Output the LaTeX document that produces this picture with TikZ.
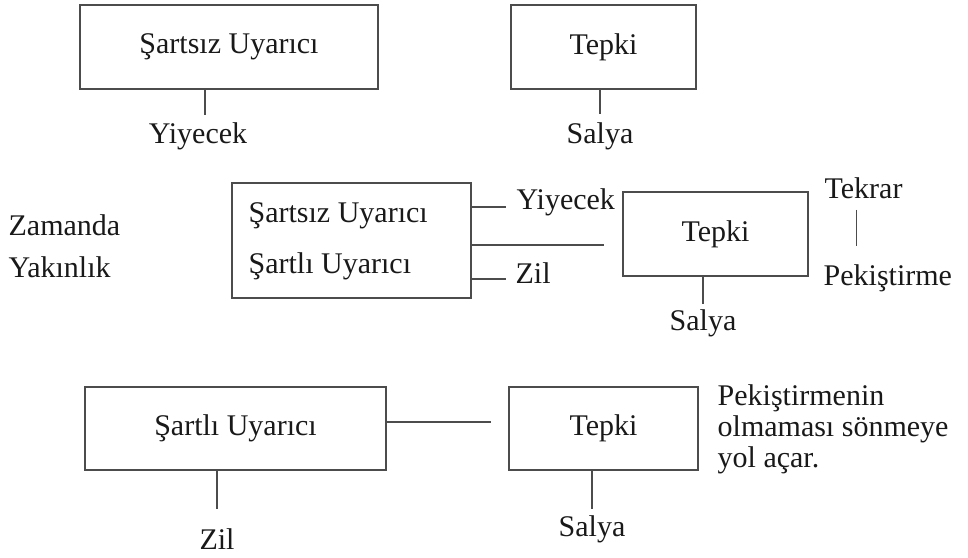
\documentclass[tikz,border=0pt]{standalone}
\usepackage{fontspec}
\setmainfont{Liberation Serif}
\usetikzlibrary{positioning}

\begin{document}
\begin{tikzpicture}
  [x=1pt, y=-1pt, color=black!70, line width=1.3pt, nodes={text=black!90, inner sep=0pt, font=\fontsize{30}{31}\selectfont}]
  \tikzset{box/.style={draw, minimum height=84pt}}
  \tikzset{lbl/.style={anchor=base}}
  \tikzset{side/.style={anchor=base west}}
  \useasboundingbox (0,0) rectangle (968,557);

  % first row
  \node [box, minimum width=298pt] (SU) at (229,47) {Şartsız Uyarıcı};
  \node [box, minimum width=185pt] (TP) at (603.5,47) {Tepki};
  \node [lbl] (YI) at (198,143) {Yiyecek};
  \node [lbl] (SA) at (600,143) {Salya};

  % second row
  \node [side] (ZA) at (8,235) {Zamanda};
  \node [side] (YA) at (8,277) {Yakınlık};
  \node [box, minimum width=239pt, minimum height=115pt] (BX) at (351.5,240.5) {};
  \node [side] (BS) at (248,222) {Şartsız Uyarıcı};
  \node [side] (BL) at (248,273) {Şartlı Uyarıcı};
  \node [side] (YI2) at (516,209) {Yiyecek};
  \node [side] (ZI2) at (515,283) {Zil};
  \node [box, minimum width=185pt] (TP2) at (715.5,234) {Tepki};
  \node [lbl] (SA2) at (703,330) {Salya};
  \node [side] (TK) at (824,198) {Tekrar};
  \node [side] (PK) at (823,285) {Pekiştirme};

  % third row
  \node [box, minimum width=301pt, minimum height=83pt] (SL) at (235.5,428.5) {Şartlı Uyarıcı};
  \node [box, minimum width=189pt, minimum height=83pt] (TP3) at (603.5,428.5) {Tepki};
  \node [lbl] (ZI3) at (217,549) {Zil};
  \node [lbl] (SA3) at (592,536) {Salya};
  \node [anchor=north west, align=left] (NT) at (717,384.5) {Pekiştirmenin\\olmaması sönmeye\\yol açar.};

  % first row
  \coordinate (yi) at ([xshift=7pt]YI.north);
  \draw [shorten >=7pt] (yi |- SU.south) -- (yi);
  \draw [shorten >=7.5pt] (SA.north |- TP.south) -- (SA.north);

  % second row
  \coordinate (yi2) at ([yshift=2pt]YI2.base west);
  \draw [shorten >=10pt] (BX.east |- yi2) -- (yi2);
  \coordinate (zi2) at ([yshift=4pt]ZI2.base west);
  \draw [shorten >=9pt] (BX.east |- zi2) -- (zi2);
  \coordinate (mid) at (604,245);
  \draw (BX.east |- mid) -- (mid);
  \draw [shorten >=5pt] (SA2.north |- TP2.south) -- (SA2.north);
  \coordinate (tk) at ([xshift=-7pt]TK.south);
  \draw [shorten <=11pt, shorten >=17.5pt] (tk) -- (tk |- PK.north);

  % third row
  \draw [shorten >=17pt] ([yshift=6.5pt]SL.east) -- ([yshift=6.5pt]TP3.west);
  \draw [shorten >=18.5pt] (ZI3.north |- SL.south) -- (ZI3.north);
  \draw [shorten >=5.5pt] (SA3.north |- TP3.south) -- (SA3.north);
\end{tikzpicture}
\end{document}
